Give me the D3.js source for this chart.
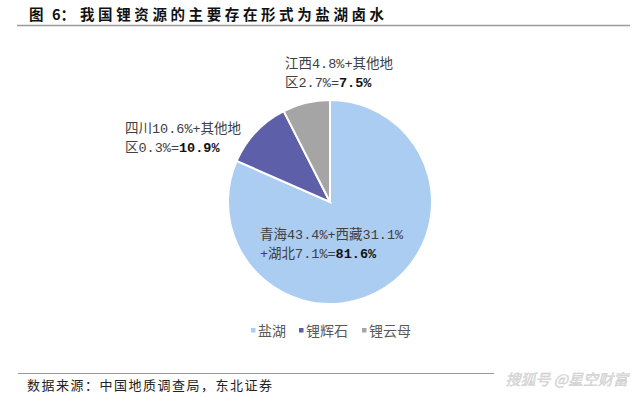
<!DOCTYPE html>
<html>
<head>
<meta charset="utf-8">
<script src="https://cdn.jsdelivr.net/npm/d3@7"></script>
<style>
  body { margin: 0; background: #fff; }
  svg { display: block; }
</style>
</head>
<body>
<div id="chart"></div>
<script>
const width = 640;
const height = 396;

// Data
const categories = ["盐湖", "锂辉石", "锂云母"];
const shares = [81.6, 10.9, 7.5];
const colors = ["#abcdf1", "#5d5fa8", "#a5a5a5"];
const labelLines = [
  [["青海43.4%+西藏31.1%", ""], ["+湖北7.1%=", "81.6%"]],
  [["四川10.6%+其他地", ""], ["区0.3%=", "10.9%"]],
  [["江西4.8%+其他地", ""], ["区2.7%=", "7.5%"]]
];
const labelPos = [[260, 239], [125, 133], [285, 68]];

const mono = "'Liberation Mono', 'Noto Sans CJK SC', monospace";
const cjk = "'Noto Sans CJK SC', sans-serif";

const svg = d3.select("#chart").append("svg")
  .attr("width", width)
  .attr("height", height);

// Title
const title = svg.append("g")
  .style("font-family", cjk)
  .style("font-weight", "bold")
  .style("font-size", "14.5px")
  .style("fill", "#111");
title.append("text").attr("x", 29).attr("y", 20).text("图");
title.append("text").attr("x", 52).attr("y", 20).text("6：");
title.append("text").attr("x", 80).attr("y", 20)
  .style("letter-spacing", "3.6px")
  .text("我国锂资源的主要存在形式为盐湖卤水");

svg.append("line")
  .attr("x1", 17).attr("x2", 630).attr("y1", 25.5).attr("y2", 25.5)
  .attr("stroke", "#9a9a9a").attr("stroke-width", 1.5);

// Pie
const cx = 330, cy = 202, r = 102;
const pie = d3.pie().sort(null).value(d => d);
const arc = d3.arc().innerRadius(0).outerRadius(r);

const g = svg.append("g").attr("transform", `translate(${cx},${cy})`);
g.selectAll("path")
  .data(pie(shares))
  .join("path")
  .attr("d", arc)
  .attr("fill", (d, i) => colors[i])
  .attr("stroke", "#fff")
  .attr("stroke-width", 2);

// Slice labels
labelLines.forEach((lines, i) => {
  const t = svg.append("text")
    .attr("x", labelPos[i][0])
    .attr("y", labelPos[i][1])
    .style("font-family", mono)
    .style("font-size", "13.5px")
    .style("fill", "#404040");
  lines.forEach((parts, j) => {
    t.append("tspan")
      .attr("x", labelPos[i][0])
      .attr("dy", j === 0 ? 0 : 19)
      .text(parts[0]);
    if (parts[1]) {
      t.append("tspan")
        .style("font-weight", "bold")
        .style("fill", "#111")
        .text(parts[1]);
    }
  });
});

// Legend
const legendX = [251, 299, 362];
const legend = svg.append("g");
categories.forEach((c, i) => {
  legend.append("rect")
    .attr("x", legendX[i]).attr("y", 328)
    .attr("width", 4.5).attr("height", 4.5)
    .attr("fill", colors[i]);
  legend.append("text")
    .attr("x", legendX[i] + 7).attr("y", 335.5)
    .style("font-family", cjk)
    .style("font-size", "14px")
    .style("fill", "#595959")
    .text(c);
});

// Footer
svg.append("line")
  .attr("x1", 18).attr("x2", 494).attr("y1", 373.5).attr("y2", 373.5)
  .attr("stroke", "#9a9a9a").attr("stroke-width", 1.2);

svg.append("text")
  .attr("x", 27).attr("y", 390)
  .style("font-family", cjk)
  .style("font-size", "13px")
  .style("letter-spacing", "1.5px")
  .style("fill", "#222")
  .text("数据来源：中国地质调查局，东北证券");

svg.append("text")
  .attr("x", 628).attr("y", 385)
  .attr("text-anchor", "end")
  .style("font-family", cjk)
  .style("font-size", "15px")
  .style("font-style", "italic")
  .style("fill", "#e2e2e2")
  .style("stroke", "#c8c8c8")
  .style("stroke-width", 0.4)
  .text("搜狐号 @星空财富");
</script>
</body>
</html>
